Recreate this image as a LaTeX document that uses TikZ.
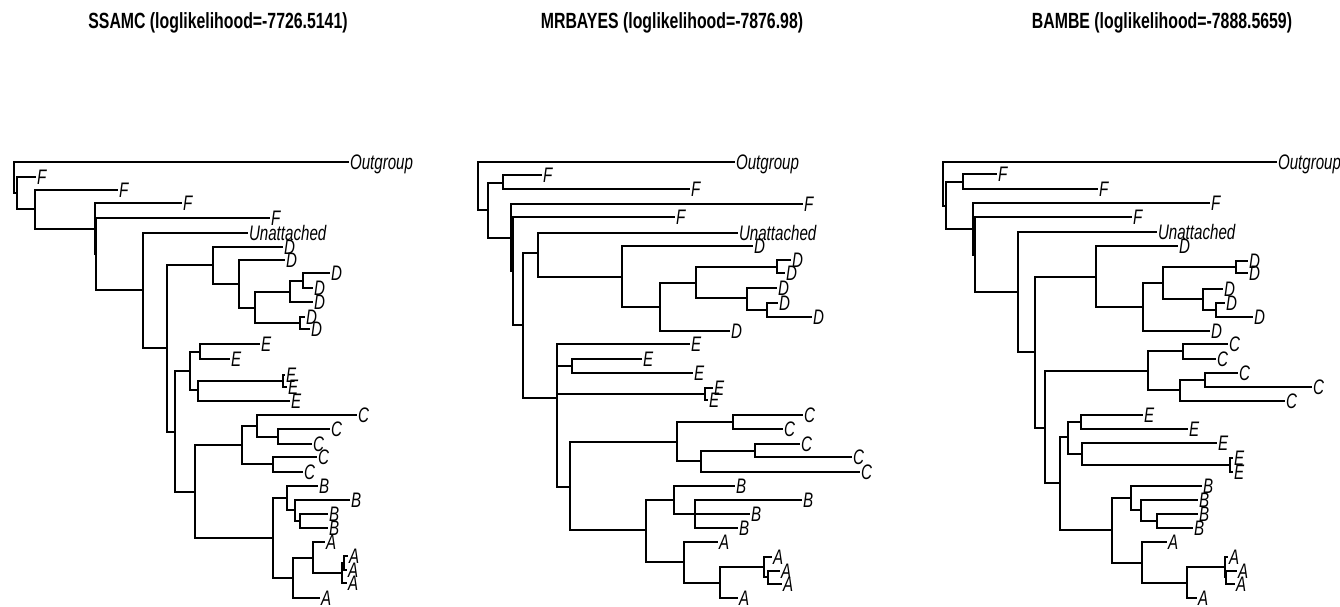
\documentclass[tikz,border=0pt]{standalone}
\usepackage{fontspec}
\newfontfamily\labfont{Liberation Sans}[FakeStretch=0.72]
\tikzset{
  edge/.style={line width=1.1pt, draw=black},
  lab/.style={anchor=west, inner xsep=0.8pt, inner ysep=0pt, text height=15pt, text depth=0pt,
    font=\labfont\itshape\fontsize{21}{21}\selectfont},
  ttl/.style={inner sep=0pt, text height=15.7pt, text depth=0pt,
    font=\labfont\bfseries\fontsize{22}{22}\selectfont}
}
\newcommand\tleaf[5]{\node[lab] (#2) at (#3,#4) {#5}; \draw[edge] (#1) |- (#2.west);}
\newcommand\tnode[4]{\coordinate (#2) at (#3,#4); \draw[edge] (#1) |- (#2);}
\begin{document}
\begin{tikzpicture}[x=1pt,y=-1pt]
\useasboundingbox (0,0) rectangle (1340,607);
% titles
\node[ttl] (t1) at (218,21) {SSAMC (loglikelihood=-7726.5141)};
\node[ttl] (t2) at (672,21) {MRBAYES (loglikelihood=-7876.98)};
\node[ttl] (t3) at (1162,21) {BAMBE (loglikelihood=-7888.5659)};
% ---------- tree 1 ----------
\coordinate (a0) at (14,177.5);
\tleaf{a0}{aOut}{349}{162}{Outgroup}
\tnode{a0}{a1}{17}{193}
\tleaf{a1}{aF1}{36}{177}{F}
\tnode{a1}{a2}{35}{209}
\tleaf{a2}{aF2}{118}{190}{F}
\tnode{a2}{a3}{95}{229}
\tleaf{a3}{aF3}{182}{203}{F}
\tnode{a3}{a3b}{96}{254}
\tleaf{a3b}{aF4}{270}{218}{F}
\tnode{a3b}{a4}{143}{290}
\tleaf{a4}{aU}{248}{233}{Unattached}
\tnode{a4}{a5}{167}{348}
\tnode{a5}{aD}{213}{265}
\tleaf{aD}{aD1}{283}{247}{D}
\tnode{aD}{aD2}{239}{284}
\tleaf{aD2}{aD2l}{285}{260}{D}
\tnode{aD2}{aD3}{255}{308}
\tnode{aD3}{aD4}{290}{292}
\tnode{aD4}{aD4a}{303}{281}
\tleaf{aD4a}{aD5}{330}{273}{D}
\tleaf{aD4a}{aD6}{313}{288}{D}
\tleaf{aD4}{aD7}{313}{302}{D}
\tnode{aD3}{aD5n}{300}{323}
\tleaf{aD5n}{aD8}{305}{317}{D}
\tleaf{aD5n}{aD9}{310}{329}{D}
\tnode{a5}{aEC}{175}{432}
\tnode{aEC}{aE}{190}{371}
\tnode{aE}{aE1}{200}{352}
\tleaf{aE1}{aE1a}{260}{344}{E}
\tleaf{aE1}{aE1b}{230}{359}{E}
\tnode{aE}{aE2}{198}{390}
\tnode{aE2}{aE3}{283}{381}
\tleaf{aE3}{aE3a}{285}{375}{E}
\tleaf{aE3}{aE3b}{287}{387}{E}
\tleaf{aE2}{aE2b}{290}{401}{E}
\tnode{aEC}{aCBA}{195}{492}
\tnode{aCBA}{aC}{242}{445}
\tnode{aC}{aC1}{257}{426}
\tleaf{aC1}{aC1a}{357}{415}{C}
\tnode{aC1}{aC2}{278}{437}
\tleaf{aC2}{aC2a}{330}{429}{C}
\tleaf{aC2}{aC2b}{312}{444}{C}
\tnode{aC}{aC3}{273}{464}
\tleaf{aC3}{aC3a}{317}{457}{C}
\tleaf{aC3}{aC3b}{303}{472}{C}
\tnode{aCBA}{aBA}{273}{538}
\tnode{aBA}{aB}{287}{498}
\tleaf{aB}{aB1}{318}{486}{B}
\tnode{aB}{aB1n}{295}{510}
\tleaf{aB1n}{aB2}{350}{500}{B}
\tnode{aB1n}{aB2n}{300}{521}
\tleaf{aB2n}{aB3}{328}{514}{B}
\tleaf{aB2n}{aB4}{328}{528}{B}
\tnode{aBA}{aA}{293}{578}
\tnode{aA}{aA1}{313}{558}
\tleaf{aA1}{aA1a}{325}{542}{A}
\tnode{aA1}{aA2}{342}{573}
\tnode{aA2}{aA3}{344}{563}
\tleaf{aA3}{aA3a}{348}{556}{A}
\tleaf{aA3}{aA3b}{347}{570}{A}
\tleaf{aA2}{aA2b}{347}{583}{A}
\tleaf{aA}{aA5}{320}{598}{A}
% ---------- tree 2 ----------
\coordinate (b0) at (478,186);
\tleaf{b0}{bOut}{735}{162}{Outgroup}
\tnode{b0}{b1}{488}{210}
\tnode{b1}{bF}{503}{183}
\tleaf{bF}{bF1}{542}{175}{F}
\tleaf{bF}{bF2}{690}{189}{F}
\tnode{b1}{b2}{511}{238}
\tleaf{b2}{bF3}{803}{204}{F}
\tnode{b2}{b3}{513}{271}
\tleaf{b3}{bF4}{675}{217}{F}
\tnode{b3}{b4}{523}{325}
\tnode{b4}{bUD}{538}{253}
\tleaf{bUD}{bU}{738}{233}{Unattached}
\tnode{bUD}{bD}{622}{277}
\tleaf{bD}{bD1}{753}{246}{D}
\tnode{bD}{bD1n}{660}{307}
\tnode{bD1n}{bD2n}{696}{283}
\tnode{bD2n}{bD3n}{777}{267}
\tleaf{bD3n}{bD2}{791}{260}{D}
\tleaf{bD3n}{bD3}{785}{273}{D}
\tnode{bD2n}{bD4n}{747}{298}
\tleaf{bD4n}{bD4}{777}{288}{D}
\tnode{bD4n}{bD5n}{767}{310}
\tleaf{bD5n}{bD5}{778}{303}{D}
\tleaf{bD5n}{bD6}{812}{317}{D}
\tleaf{bD1n}{bD7}{730}{331}{D}
\tnode{b4}{bEC}{557}{398}
\tleaf{bEC}{bE1}{690}{344}{E}
\tnode{bEC}{bE1n}{572}{366}
\tleaf{bE1n}{bE2}{642}{359}{E}
\tleaf{bE1n}{bE3}{693}{373}{E}
\tnode{bEC}{bE2n}{705}{394}
\tleaf{bE2n}{bE4}{713}{388}{E}
\tleaf{bE2n}{bE5}{708}{400}{E}
\tnode{bEC}{bCBA}{570}{487}
\tnode{bCBA}{bC}{677}{442}
\tnode{bC}{bC1n}{733}{422}
\tleaf{bC1n}{bC1}{803}{415}{C}
\tleaf{bC1n}{bC2}{783}{429}{C}
\tnode{bC}{bC2n}{701}{461}
\tnode{bC2n}{bC3n}{755}{451}
\tleaf{bC3n}{bC3}{800}{444}{C}
\tleaf{bC3n}{bC4}{852}{457}{C}
\tleaf{bC2n}{bC5}{860}{472}{C}
\tnode{bCBA}{bBA}{646}{530}
\tnode{bBA}{bB}{674}{500}
\tleaf{bB}{bB1}{735}{486}{B}
\tnode{bB}{bB1n}{695}{514}
\tleaf{bB1n}{bB2}{802}{500}{B}
\tleaf{bB1n}{bB3}{750}{514}{B}
\tleaf{bB1n}{bB4}{738}{528}{B}
\tnode{bBA}{bA}{684}{562}
\tleaf{bA}{bA1}{718}{542}{A}
\tnode{bA}{bA1n}{720}{583}
\tnode{bA1n}{bA2n}{764}{567}
\tleaf{bA2n}{bA2}{772}{557}{A}
\tnode{bA2n}{bA3n}{768}{577}
\tleaf{bA3n}{bA3}{780}{571}{A}
\tleaf{bA3n}{bA4}{782}{584}{A}
\tleaf{bA1n}{bA5}{738}{598}{A}
% ---------- tree 3 ----------
\coordinate (c0) at (943,184);
\tleaf{c0}{cOut}{1277}{162}{Outgroup}
\tnode{c0}{c1}{946}{206}
\tnode{c1}{cF}{963}{182}
\tleaf{cF}{cF1}{997}{174}{F}
\tleaf{cF}{cF2}{1098}{189}{F}
\tnode{c1}{c2}{973}{229}
\tleaf{c2}{cF3}{1210}{203}{F}
\tnode{c2}{c3}{975}{255}
\tleaf{c3}{cF4}{1132}{217}{F}
\tnode{c3}{c4}{1018}{292}
\tleaf{c4}{cU}{1157}{232}{Unattached}
\tnode{c4}{c5}{1035}{352}
\tnode{c5}{cD}{1096}{277}
\tleaf{cD}{cD1}{1178}{246}{D}
\tnode{cD}{cD1n}{1143}{307}
\tnode{cD1n}{cD2n}{1163}{283}
\tnode{cD2n}{cD3n}{1236}{267}
\tleaf{cD3n}{cD2}{1248}{261}{D}
\tleaf{cD3n}{cD3}{1248}{273}{D}
\tnode{cD2n}{cD4n}{1203}{299}
\tleaf{cD4n}{cD4}{1223}{289}{D}
\tnode{cD4n}{cD5n}{1216}{310}
\tleaf{cD5n}{cD5}{1225}{303}{D}
\tleaf{cD5n}{cD6}{1253}{317}{D}
\tleaf{cD1n}{cD7}{1210}{331}{D}
\tnode{c5}{cCEBA}{1045}{428}
\tnode{cCEBA}{cC}{1148}{371}
\tnode{cC}{cC1n}{1183}{351}
\tleaf{cC1n}{cC1}{1228}{344}{C}
\tleaf{cC1n}{cC2}{1216}{359}{C}
\tnode{cC}{cC2n}{1180}{390}
\tnode{cC2n}{cC3n}{1205}{380}
\tleaf{cC3n}{cC3}{1238}{373}{C}
\tleaf{cC3n}{cC4}{1312}{387}{C}
\tleaf{cC2n}{cC5}{1285}{401}{C}
\tnode{cCEBA}{cEBA}{1060}{483}
\tnode{cEBA}{cE}{1068}{437}
\tnode{cE}{cE1n}{1081}{422}
\tleaf{cE1n}{cE1}{1143}{415}{E}
\tleaf{cE1n}{cE2}{1188}{429}{E}
\tnode{cE}{cE2n}{1082}{454}
\tleaf{cE2n}{cE3}{1217}{443}{E}
\tnode{cE2n}{cE3n}{1230}{465}
\tleaf{cE3n}{cE4}{1233}{458}{E}
\tleaf{cE3n}{cE5}{1233}{472}{E}
\tnode{cEBA}{cBA}{1112}{530}
\tnode{cBA}{cB}{1131}{498}
\tleaf{cB}{cB1}{1202}{486}{B}
\tnode{cB}{cB1n}{1141}{510}
\tleaf{cB1n}{cB2}{1198}{500}{B}
\tnode{cB1n}{cB2n}{1157}{521}
\tleaf{cB2n}{cB3}{1198}{514}{B}
\tleaf{cB2n}{cB4}{1193}{528}{B}
\tnode{cBA}{cA}{1142}{563}
\tleaf{cA}{cA1}{1167}{542}{A}
\tnode{cA}{cA1n}{1187}{583}
\tnode{cA1n}{cA2n}{1225}{567}
\tleaf{cA2n}{cA2}{1228}{557}{A}
\tnode{cA2n}{cA3n}{1226}{577}
\tleaf{cA3n}{cA3}{1237}{571}{A}
\tleaf{cA3n}{cA4}{1235}{584}{A}
\tleaf{cA1n}{cA5}{1197}{598}{A}
\end{tikzpicture}
\end{document}
